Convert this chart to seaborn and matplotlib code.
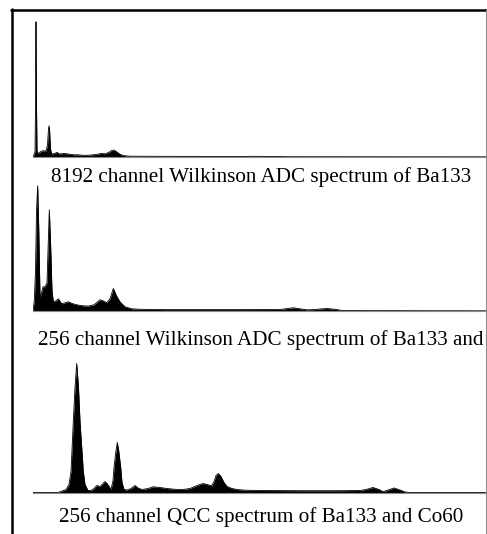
import matplotlib
matplotlib.use("Agg")
import matplotlib.pyplot as plt
from matplotlib.lines import Line2D
import seaborn as sns
import pandas as pd

sns.set_theme(style="white")
plt.rcParams["font.family"] = ["Liberation Serif", "DejaVu Serif"]

# ---- data (channel position, relative counts) ----
wilk8192_pos = [33, 34, 35, 35.6, 36, 36.4, 37, 38, 39, 41, 43, 45, 46, 47.5, 48.5, 49,
                49.5, 50.5, 51.5, 53, 55, 57, 59, 61, 64, 67, 70, 74, 78, 83, 88, 93,
                97, 101, 105, 109, 111, 114, 116, 118, 121, 125, 130, 150, 200, 240,
                255, 265, 275, 290, 486]
wilk8192_cnt = [0, 2, 5, 60, 135, 60, 6, 3, 4, 5.5, 6, 6, 5.5, 12, 28, 31,
                28, 8, 3, 3, 3.5, 4.5, 3, 3, 3.3, 3, 2.5, 2, 2, 1.5, 1.5, 2,
                2.5, 3.3, 3, 4.5, 6, 6.7, 5.5, 4, 2, 1, 0.6, 0.5, 0.4, 0.3,
                0.5, 0.4, 0.3, 0.1, 0]

wilk256_pos = [33, 34.3, 35.5, 36.5, 37.7, 38.8, 40, 41.5, 43, 45, 47, 48.3, 49.3, 50.5,
               52, 53.3, 56, 58.3, 61.7, 65, 68.3, 73, 78.3, 83, 88.3, 94, 100, 103,
               106.7, 110, 113.3, 116.5, 120, 125, 131.7, 140, 165, 200, 240, 280,
               287, 293.3, 300, 306.7, 314, 320, 327.3, 335, 343, 486]
wilk256_cnt = [0, 10, 40, 100, 125, 80, 14, 18, 24, 24, 28, 70, 101, 70,
               20, 9, 10, 12, 7, 8, 9, 7, 5.7, 5, 4.7, 6, 11, 10,
               8, 12, 22.3, 15, 9, 4, 2, 1.5, 1.2, 1.2, 1.2, 1.3,
               2.2, 3, 2, 1, 1.2, 1.8, 2.3, 1.5, 0.2, 0]

qcc_pos = [33, 58, 62, 66, 69, 71, 73.3, 75, 76.7, 78.5, 80, 83.3, 85, 88, 91, 94,
           96.7, 100, 103, 105, 107, 108.5, 111, 113, 114, 116, 117.3, 118.7, 120.7,
           122, 124, 127, 131, 135, 138, 142, 148, 153, 160, 167, 175, 183, 190, 197,
           203, 207, 211.7, 214, 216, 218.3, 221, 224, 227, 232, 237, 245, 260, 300,
           340, 360, 366, 373, 379, 383, 388, 394, 400, 405, 410, 486]
qcc_cnt = [0, 0, 1.5, 3, 8, 21, 71, 105, 129, 105, 71, 21, 8, 2, 2, 4,
           7, 6, 9, 11, 9, 7, 3, 12, 25, 42, 50, 42, 25,
           10, 3, 2.5, 4, 7, 4.5, 3, 4, 5.7, 5, 4, 3.2, 3, 4, 7,
           9, 8, 6.7, 11, 17, 19, 16, 10, 6, 4, 3, 2.3, 2, 1.8,
           1.8, 2, 3, 5, 3, 0.8, 2.5, 4.5, 2.5, 0.5, 0, 0]

captions = ["8192 channel Wilkinson ADC spectrum of Ba133",
            "256 channel Wilkinson ADC spectrum of Ba133 and",
            "256 channel QCC spectrum of Ba133 and Co60"]

W, H = 487, 534
fig = plt.figure(figsize=(W / 100, H / 100), dpi=100)
fig.patch.set_facecolor("white")

panels = [(wilk8192_pos, wilk8192_cnt, 156.8, 182.0),
          (wilk256_pos, wilk256_cnt, 310.8, 345.0),
          (qcc_pos, qcc_cnt, 492.5, 522.0)]
AX_L, AX_R, AX_H = 33, 486, 140

for (pos, cnt, base_y, cap_y), cap in zip(panels, captions):
    ax = fig.add_axes([AX_L / W, 1 - base_y / H, (AX_R - AX_L) / W, AX_H / H])
    ax.set_facecolor("none")
    df = pd.DataFrame({"pos": pos, "cnt": cnt})
    ax.fill_between(df["pos"], df["cnt"], 0, color="black", lw=0)
    sns.lineplot(data=df, x="pos", y="cnt", ax=ax, color="black", lw=0.6, sort=False)
    ax.set_xlim(AX_L, AX_R)
    ax.set_ylim(0, AX_H)
    ax.set_xticks([])
    ax.set_yticks([])
    ax.set_xlabel("")
    ax.set_ylabel("")
    for s in ["top", "left", "right"]:
        ax.spines[s].set_visible(False)
    ax.spines["bottom"].set_color("#8c8c8c")
    ax.spines["bottom"].set_linewidth(0.8)
    fig.text(261 / W, 1 - cap_y / H, cap, ha="center", va="baseline",
             fontsize=15.2, color="black")

# outer frame
fig.add_artist(Line2D([11 / W, 486.5 / W], [1 - 10.2 / H, 1 - 10.2 / H],
                      color="black", lw=1.8, transform=fig.transFigure))
fig.add_artist(Line2D([11.5 / W, 11.5 / W], [1 - 9.3 / H, 0],
                      color="black", lw=1.8, transform=fig.transFigure))
fig.add_artist(Line2D([486 / W, 486 / W], [1 - 10 / H, 0],
                      color="#8c8c8c", lw=0.8, transform=fig.transFigure))

fig.savefig("out.png", dpi=100, facecolor="white")
